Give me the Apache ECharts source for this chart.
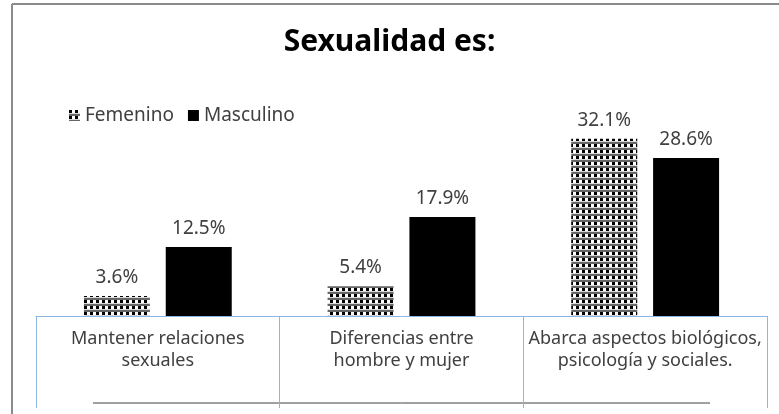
<!DOCTYPE html>
<html>
<head>
<meta charset="utf-8">
<script src="https://cdn.jsdelivr.net/npm/echarts@6/dist/echarts.min.js"></script>
<style>
html,body{margin:0;padding:0;background:#fff;}
#chart{width:779px;height:414px;}
</style>
</head>
<body>
<div id="chart"></div>
<script>
var categories = ['Mantener relaciones\nsexuales', 'Diferencias entre\nhombre y mujer', 'Abarca aspectos biológicos,\npsicología y sociales.'];
var femenino = [3.6, 5.4, 32.1];
var masculino = [12.5, 17.9, 28.6];

// trama de cuadritos para Femenino
function makePattern(){
    var c = document.createElement('canvas');
    c.width = 6; c.height = 6;
    var ctx = c.getContext('2d');
    ctx.fillStyle = '#7a7a7a';
    ctx.fillRect(0, 0, 6, 6);
    ctx.fillStyle = '#000';
    ctx.fillRect(0, 0, 3, 3);
    ctx.fillStyle = '#fff';
    ctx.fillRect(3, 0, 3, 3);
    ctx.fillStyle = '#d8d8d8';
    ctx.fillRect(0, 3, 6, 1);
    ctx.fillStyle = '#666';
    ctx.fillRect(0, 4, 6, 2);
    return c;
}

var my_chart = echarts.init(document.getElementById('chart'));
var labelStyle = {
    show: true,
    position: 'top',
    distance: 9,
    color: '#404040',
    fontSize: 19,
    fontFamily: 'Noto Sans',
    formatter: function(p){ return p.value.toFixed(1) + '%'; }
};
my_chart.setOption({
    animation: false,
    textStyle: { fontFamily: 'Noto Sans' },
    title: {
        text: 'Sexualidad es:',
        left: 'center',
        top: 22,
        textStyle: { fontSize: 30, fontWeight: 'bold', color: '#000', fontFamily: 'Noto Sans' }
    },
    legend: {
        left: 64,
        top: 101,
        itemWidth: 11,
        itemHeight: 11,
        itemGap: 14,
        icon: 'rect',
        textStyle: { fontSize: 19, color: '#404040' },
        data: ['Femenino', 'Masculino']
    },
    grid: { left: 36, right: 12, top: 95, bottom: 98 },
    xAxis: {
        type: 'category',
        data: categories,
        axisLine: { lineStyle: { color: '#8eb4e3', width: 1 } },
        axisTick: { show: true, interval: 0, length: 92, lineStyle: { color: '#8eb4e3' } },
        axisLabel: { interval: 0, color: '#404040', fontSize: 18, margin: 12, lineHeight: 22 }
    },
    yAxis: {
        type: 'value',
        min: 0,
        max: 40,
        show: false,
        splitLine: { show: false }
    },
    series: [
        {
            name: 'Femenino',
            type: 'bar',
            data: femenino,
            barWidth: 66,
            barGap: '24%',
            itemStyle: { color: { image: makePattern(), repeat: 'repeat' } },
            label: labelStyle
        },
        {
            name: 'Masculino',
            type: 'bar',
            data: masculino,
            barWidth: 66,
            itemStyle: { color: '#000' },
            label: labelStyle
        }
    ],
    graphic: [
        { type: 'line', shape: { x1: 12, y1: 4, x2: 779, y2: 4 }, style: { stroke: '#8a8a8a', lineWidth: 2 } },
        { type: 'line', shape: { x1: 12, y1: 4, x2: 12, y2: 414 }, style: { stroke: '#8a8a8a', lineWidth: 2 } },
        { type: 'line', shape: { x1: 93, y1: 403, x2: 710, y2: 403 }, style: { stroke: '#404040', lineWidth: 1 } }
    ]
});
</script>
</body>
</html>
